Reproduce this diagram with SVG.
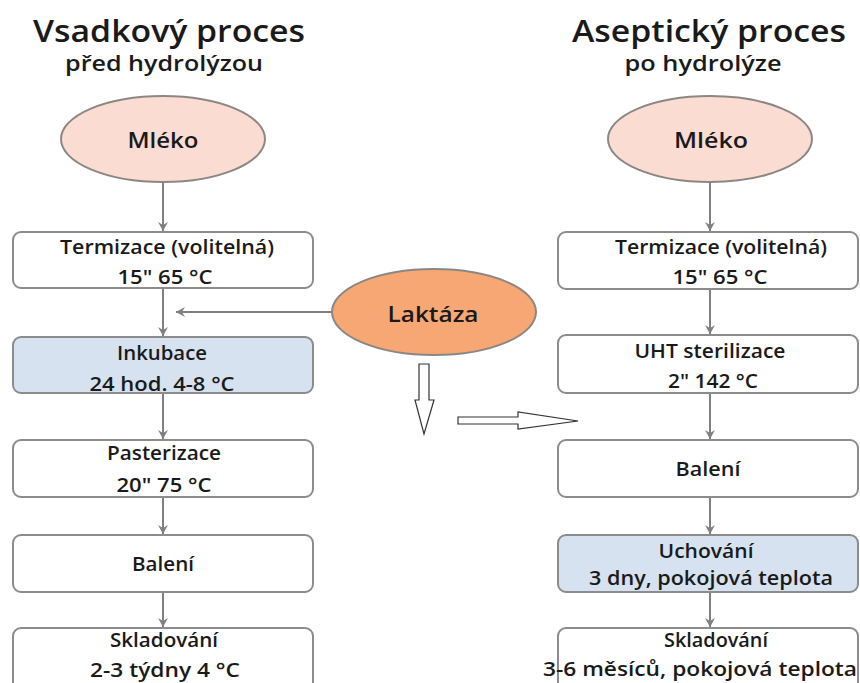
<svg xmlns="http://www.w3.org/2000/svg" width="860" height="683" viewBox="0 0 860 683">
<defs>
<style>
text{font-family:"Open Sans","Noto Sans","DejaVu Sans",sans-serif;fill:#1a1a1a;text-anchor:middle}
.title{font-size:31px;font-weight:600}
.sub{font-size:21px;font-weight:600}
.lbl{font-size:20px;font-weight:600}
.big{font-size:22px;font-weight:600}
.box{fill:#ffffff;stroke:#8c8c8c;stroke-width:2}
.blue{fill:#d6e2f0;stroke:#8c8c8c;stroke-width:2}
.milk{fill:#fbdcd2;stroke:#8c8784;stroke-width:2}
.enz{fill:#f7a774;stroke:#8c8784;stroke-width:2}
.con{stroke:#808080;stroke-width:2;fill:none}
.hollow{fill:#ffffff;stroke:#333333;stroke-width:1.2}
</style>
<marker id="ah" markerWidth="10" markerHeight="10" refX="9" refY="5" orient="auto" markerUnits="userSpaceOnUse">
<path d="M0,0 L9,5 L0,10 L3,5 Z" fill="#808080"/>
</marker>
</defs>
<rect width="860" height="683" fill="#ffffff"/>

<g id="titles">
<text class="title" x="169" y="42" textLength="272" lengthAdjust="spacingAndGlyphs">Vsadkový proces</text>
<text class="sub" x="164" y="71" textLength="198" lengthAdjust="spacingAndGlyphs">před hydrolýzou</text>
<text class="title" x="709" y="42" textLength="274" lengthAdjust="spacingAndGlyphs">Aseptický proces</text>
<text class="sub" x="703" y="71" textLength="157" lengthAdjust="spacingAndGlyphs">po hydrolýze</text>
</g>

<g id="connectors">
<line class="con" x1="163" y1="182" x2="163" y2="231" marker-end="url(#ah)"/>
<line class="con" x1="163" y1="288" x2="163" y2="336" marker-end="url(#ah)"/>
<line class="con" x1="163" y1="393" x2="163" y2="439" marker-end="url(#ah)"/>
<line class="con" x1="163" y1="497" x2="163" y2="534" marker-end="url(#ah)"/>
<line class="con" x1="163" y1="592" x2="163" y2="627" marker-end="url(#ah)"/>
<line class="con" x1="710" y1="182" x2="710" y2="231" marker-end="url(#ah)"/>
<line class="con" x1="710" y1="289" x2="710" y2="334" marker-end="url(#ah)"/>
<line class="con" x1="710" y1="393" x2="710" y2="439" marker-end="url(#ah)"/>
<line class="con" x1="710" y1="497" x2="710" y2="534" marker-end="url(#ah)"/>
<line class="con" x1="710" y1="592" x2="710" y2="627" marker-end="url(#ah)"/>
<line class="con" x1="332" y1="312" x2="176" y2="312" marker-end="url(#ah)"/>
<path class="hollow" d="M419,364 L429,364 L429,400 L434,400 L424,434 L415,400 L419,400 Z"/>
<path class="hollow" d="M458,417 L518,417 L518,412 L578,421 L518,429 L518,424 L458,424 Z"/>
</g>

<g id="mleko-left">
<ellipse class="milk" cx="163" cy="139" rx="102" ry="43"/>
<text class="big" x="163" y="148" textLength="71" lengthAdjust="spacingAndGlyphs">Mléko</text>
</g>
<g id="mleko-right">
<ellipse class="milk" cx="710" cy="139" rx="102" ry="43"/>
<text class="big" x="711" y="148" textLength="74" lengthAdjust="spacingAndGlyphs">Mléko</text>
</g>
<g id="laktaza">
<ellipse class="enz" cx="434" cy="312" rx="102" ry="43"/>
<text class="big" x="433" y="322" textLength="91" lengthAdjust="spacingAndGlyphs">Laktáza</text>
</g>

<g id="termizace-left">
<rect class="box" x="13" y="232" width="300" height="56" rx="8"/>
<text class="lbl" x="167" y="254" textLength="214" lengthAdjust="spacingAndGlyphs">Termizace (volitelná)</text>
<text class="lbl" x="165" y="284" textLength="95" lengthAdjust="spacingAndGlyphs">15" 65 °C</text>
</g>
<g id="inkubace">
<rect class="blue" x="13" y="337" width="300" height="56" rx="8"/>
<text class="lbl" x="162" y="360" textLength="90" lengthAdjust="spacingAndGlyphs">Inkubace</text>
<text class="lbl" x="162" y="391" textLength="145" lengthAdjust="spacingAndGlyphs">24 hod. 4-8 °C</text>
</g>
<g id="pasterizace">
<rect class="box" x="13" y="440" width="300" height="57" rx="8"/>
<text class="lbl" x="164" y="460" textLength="114" lengthAdjust="spacingAndGlyphs">Pasterizace</text>
<text class="lbl" x="164" y="492" textLength="95" lengthAdjust="spacingAndGlyphs">20" 75 °C</text>
</g>
<g id="baleni-left">
<rect class="box" x="13" y="535" width="300" height="57" rx="8"/>
<text class="lbl" x="163" y="571" textLength="62" lengthAdjust="spacingAndGlyphs">Balení</text>
</g>
<g id="skladovani-left">
<rect class="box" x="13" y="628" width="300" height="70" rx="8"/>
<text class="lbl" x="164" y="647" textLength="108" lengthAdjust="spacingAndGlyphs">Skladování</text>
<text class="lbl" x="165" y="677" textLength="150" lengthAdjust="spacingAndGlyphs">2-3 týdny  4 °C</text>
</g>

<g id="termizace-right">
<rect class="box" x="558" y="232" width="300" height="57" rx="8"/>
<text class="lbl" x="721" y="254" textLength="212" lengthAdjust="spacingAndGlyphs">Termizace (volitelná)</text>
<text class="lbl" x="720" y="284" textLength="95" lengthAdjust="spacingAndGlyphs">15" 65 °C</text>
</g>
<g id="uht">
<rect class="box" x="558" y="335" width="300" height="58" rx="8"/>
<text class="lbl" x="710" y="358" textLength="151" lengthAdjust="spacingAndGlyphs">UHT sterilizace</text>
<text class="lbl" x="713" y="388" textLength="90" lengthAdjust="spacingAndGlyphs">2" 142 °C</text>
</g>
<g id="baleni-right">
<rect class="box" x="558" y="440" width="300" height="57" rx="8"/>
<text class="lbl" x="708" y="476" textLength="65" lengthAdjust="spacingAndGlyphs">Balení</text>
</g>
<g id="uchovani">
<rect class="blue" x="558" y="535" width="300" height="57" rx="8"/>
<text class="lbl" x="706" y="558" textLength="95" lengthAdjust="spacingAndGlyphs">Uchování</text>
<text class="lbl" x="711" y="585" textLength="244" lengthAdjust="spacingAndGlyphs">3 dny, pokojová teplota</text>
</g>
<g id="skladovani-right">
<rect class="box" x="558" y="628" width="300" height="70" rx="8"/>
<text class="lbl" x="716" y="647" textLength="104" lengthAdjust="spacingAndGlyphs">Skladování</text>
<text class="lbl" x="700" y="676" textLength="314" lengthAdjust="spacingAndGlyphs">3-6 měsíců, pokojová teplota</text>
</g>
</svg>
